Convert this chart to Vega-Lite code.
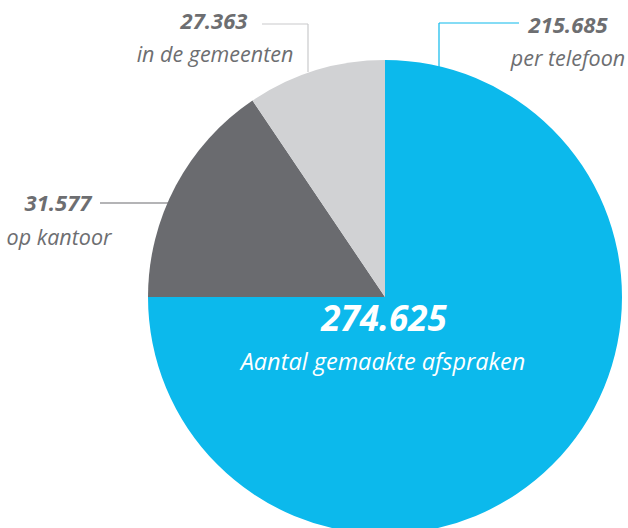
{
  "$schema": "https://vega.github.io/schema/vega-lite/v6.json",
  "width": 628,
  "height": 528,
  "autosize": "none",
  "padding": 0,
  "background": "white",
  "config": {
    "view": {"stroke": null},
    "axis": {"disable": true},
    "locale": {"number": {"decimal": ",", "thousands": ".", "grouping": [3], "currency": ["€", ""]}},
    "text": {"font": "Open Sans", "fontStyle": "italic"}
  },
  "data": {
    "values": [
      {"category": "per telefoon", "value": 215685, "drawn_angle": 270, "order": 1},
      {"category": "op kantoor", "value": 31577, "drawn_angle": 56, "order": 2},
      {"category": "in de gemeenten", "value": 27363, "drawn_angle": 34, "order": 3}
    ]
  },
  "layer": [
    {
      "mark": {"type": "arc", "outerRadius": 237, "stroke": null},
      "encoding": {
        "x": {"datum": 385, "type": "quantitative", "scale": {"domain": [0, 628], "nice": false, "zero": false}, "axis": null},
        "y": {"datum": 297, "type": "quantitative", "scale": {"domain": [0, 528], "nice": false, "zero": false, "reverse": true}, "axis": null},
        "theta": {"field": "drawn_angle", "type": "quantitative", "stack": true},
        "order": {"field": "order", "type": "quantitative"},
        "color": {
          "field": "category", "type": "nominal", "legend": null,
          "scale": {"domain": ["per telefoon", "op kantoor", "in de gemeenten"], "range": ["#0cb9ec", "#6a6b6f", "#d1d2d4"]}
        }
      }
    },
    {
      "transform": [{"filter": "datum.category === 'in de gemeenten'"}],
      "mark": {"type": "rule", "color": "#c9cacc", "strokeWidth": 1.2},
      "encoding": {"x": {"datum": 262}, "x2": {"datum": 308}, "y": {"datum": 24}, "y2": {"datum": 24}}
    },
    {
      "transform": [{"filter": "datum.category === 'in de gemeenten'"}],
      "mark": {"type": "rule", "color": "#c9cacc", "strokeWidth": 1.2},
      "encoding": {"x": {"datum": 308}, "x2": {"datum": 308}, "y": {"datum": 24}, "y2": {"datum": 72}}
    },
    {
      "transform": [{"filter": "datum.category === 'per telefoon'"}],
      "mark": {"type": "rule", "color": "#0cb9ec", "strokeWidth": 1.2},
      "encoding": {"x": {"datum": 439}, "x2": {"datum": 519}, "y": {"datum": 23}, "y2": {"datum": 23}}
    },
    {
      "transform": [{"filter": "datum.category === 'per telefoon'"}],
      "mark": {"type": "rule", "color": "#0cb9ec", "strokeWidth": 1.2},
      "encoding": {"x": {"datum": 439}, "x2": {"datum": 439}, "y": {"datum": 23}, "y2": {"datum": 68}}
    },
    {
      "transform": [{"filter": "datum.category === 'op kantoor'"}],
      "mark": {"type": "rule", "color": "#6a6b6f", "strokeWidth": 1.2},
      "encoding": {"x": {"datum": 100}, "x2": {"datum": 168}, "y": {"datum": 203}, "y2": {"datum": 203}}
    },
    {
      "transform": [{"filter": "datum.category === 'in de gemeenten'"}],
      "mark": {"type": "text", "fontWeight": "bold", "fontSize": 22, "color": "#6d6e71", "align": "center", "baseline": "alphabetic"},
      "encoding": {"x": {"datum": 214}, "y": {"datum": 29}, "text": {"field": "value", "type": "quantitative", "format": ",d"}}
    },
    {
      "transform": [{"filter": "datum.category === 'in de gemeenten'"}],
      "mark": {"type": "text", "fontSize": 21.5, "color": "#6d6e71", "align": "center", "baseline": "alphabetic"},
      "encoding": {"x": {"datum": 215}, "y": {"datum": 62}, "text": {"field": "category", "type": "nominal"}}
    },
    {
      "transform": [{"filter": "datum.category === 'per telefoon'"}],
      "mark": {"type": "text", "fontWeight": "bold", "fontSize": 22, "color": "#6d6e71", "align": "center", "baseline": "alphabetic"},
      "encoding": {"x": {"datum": 568}, "y": {"datum": 33}, "text": {"field": "value", "type": "quantitative", "format": ",d"}}
    },
    {
      "transform": [{"filter": "datum.category === 'per telefoon'"}],
      "mark": {"type": "text", "fontSize": 21.5, "color": "#6d6e71", "align": "center", "baseline": "alphabetic"},
      "encoding": {"x": {"datum": 568}, "y": {"datum": 66}, "text": {"field": "category", "type": "nominal"}}
    },
    {
      "transform": [{"filter": "datum.category === 'op kantoor'"}],
      "mark": {"type": "text", "fontWeight": "bold", "fontSize": 22, "color": "#6d6e71", "align": "center", "baseline": "alphabetic"},
      "encoding": {"x": {"datum": 58}, "y": {"datum": 211}, "text": {"field": "value", "type": "quantitative", "format": ",d"}}
    },
    {
      "transform": [{"filter": "datum.category === 'op kantoor'"}],
      "mark": {"type": "text", "fontSize": 21.5, "color": "#6d6e71", "align": "center", "baseline": "alphabetic"},
      "encoding": {"x": {"datum": 59}, "y": {"datum": 245}, "text": {"field": "category", "type": "nominal"}}
    },
    {
      "transform": [{"aggregate": [{"op": "sum", "field": "value", "as": "total"}]}],
      "mark": {"type": "text", "fontWeight": "bold", "fontSize": 35, "color": "white", "align": "center", "baseline": "alphabetic"},
      "encoding": {"x": {"datum": 384}, "y": {"datum": 331}, "text": {"field": "total", "type": "quantitative", "format": ",d"}}
    },
    {
      "transform": [{"aggregate": [{"op": "sum", "field": "value", "as": "total"}]}],
      "mark": {"type": "text", "fontSize": 23.5, "color": "white", "align": "center", "baseline": "alphabetic", "text": "Aantal gemaakte afspraken"},
      "encoding": {"x": {"datum": 383}, "y": {"datum": 370}}
    }
  ]
}
